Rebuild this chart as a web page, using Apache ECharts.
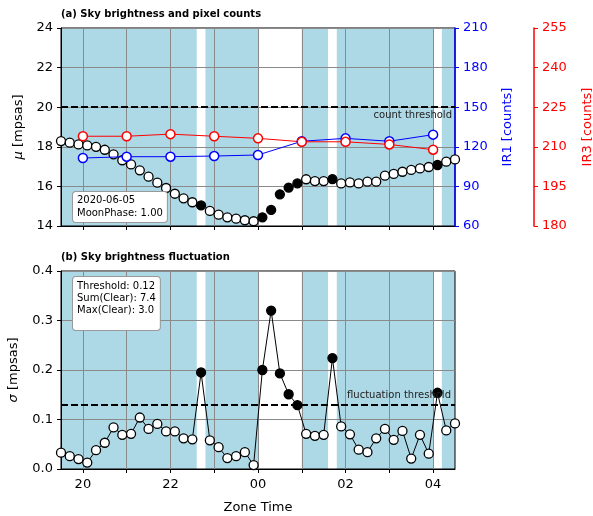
<!DOCTYPE html>
<html>
<head>
<meta charset="utf-8">
<script src="https://cdn.jsdelivr.net/npm/echarts@6/dist/echarts.min.js"></script>
<style>
  html, body { margin: 0; padding: 0; background: #fff; }
  #chart { width: 593px; height: 516px; }
</style>
</head>
<body>
<div id="chart"></div>
<script>
// 12-minute samples, zone time
const sampleTimes = [
  '19:30', '19:42', '19:54', '20:06', '20:18', '20:30', '20:42', '20:54',
  '21:06', '21:18', '21:30', '21:42', '21:54', '22:06', '22:18', '22:30',
  '22:42', '22:54', '23:06', '23:18', '23:30', '23:42', '23:54', '00:06',
  '00:18', '00:30', '00:42', '00:54', '01:06', '01:18', '01:30', '01:42',
  '01:54', '02:06', '02:18', '02:30', '02:42', '02:54', '03:06', '03:18',
  '03:30', '03:42', '03:54', '04:06', '04:18', '04:30',
]
const skyBrightness = [
  18.29, 18.21, 18.12, 18.07, 18.0, 17.85, 17.62, 17.32,
  17.11, 16.81, 16.49, 16.19, 15.92, 15.63, 15.4, 15.2,
  15.04, 14.76, 14.57, 14.44, 14.37, 14.29, 14.24, 14.44,
  14.81, 15.6, 15.94, 16.15, 16.36, 16.27, 16.27, 16.37,
  16.15, 16.2, 16.15, 16.24, 16.24, 16.54, 16.63, 16.74,
  16.83, 16.91, 16.98, 17.08, 17.25, 17.36,
]
const fluctuation = [
  0.033, 0.026, 0.02, 0.013, 0.038, 0.053, 0.084, 0.069,
  0.071, 0.104, 0.081, 0.091, 0.076, 0.076, 0.062, 0.06,
  0.195, 0.058, 0.044, 0.022, 0.026, 0.034, 0.008, 0.2,
  0.32, 0.193, 0.151, 0.129, 0.071, 0.067, 0.069, 0.224,
  0.086, 0.07, 0.039, 0.034, 0.062, 0.081, 0.059, 0.077,
  0.021, 0.069, 0.031, 0.154, 0.078, 0.092,
]
// 1 = clear sky (open marker), 0 = cloudy (filled marker)
const clearFlags = [
  1, 1, 1, 1, 1, 1, 1, 1, 1, 1, 1, 1, 1, 1, 1, 1,
  0, 1, 1, 1, 1, 1, 1, 0, 0, 0, 0, 0, 1, 1, 1, 0,
  1, 1, 1, 1, 1, 1, 1, 1, 1, 1, 1, 0, 1, 1,
]
const hourlyTimes = ['20:00', '21:00', '22:00', '23:00', '00:00', '01:00', '02:00', '03:00', '04:00']
const ir1Counts = [111.5, 112.5, 112.5, 113, 113.8, 124.2, 126.4, 124.2, 129.2]
const ir3Counts = [214.0, 214.0, 214.8, 214.0, 213.2, 211.9, 211.9, 210.9, 208.9]

const hourTicks = [20, 21, 22, 23, 24, 25, 26, 27, 28]
const hourLabels = [20, 22, 24, 26, 28]
const countThreshold = 20
const fluctThreshold = 0.125

const toHours = (s) => {
  const [h, m] = s.split(':').map(Number)
  return (h < 12 ? h + 24 : h) + m / 60
}
const xs = sampleTimes.map(toHours)
const halfStep = 0.1

// clear periods -> shaded spans
const clearSpans = []
clearFlags.forEach((c, i) => {
  if (!c) return
  const last = clearSpans[clearSpans.length - 1]
  if (last && last.end === i - 1) last.end = i
  else clearSpans.push({ start: i, end: i })
})
const areaData = clearSpans.map(({ start, end }) => [
  { xAxis: Math.max(19.5, xs[start] - halfStep) },
  { xAxis: Math.min(28.5, xs[end] + halfStep) },
])

const pointStyle = (c) => ({
  color: c ? '#fff' : '#000',
  borderColor: '#000',
  borderWidth: 1.3,
  opacity: 1,
})

const font = 'DejaVu Sans'
const gridColor = '#8a8a8a'

const xAxisBase = (gridIndex, labels) => ({
  type: 'value',
  gridIndex,
  min: 19.5,
  max: 28.5,
  z: 1.6,
  axisLine: { show: true, lineStyle: { color: '#000', width: 1 } },
  axisTick: { show: true, length: 4, customValues: hourTicks, lineStyle: { color: '#000' } },
  splitLine: { show: true, lineStyle: { color: gridColor, width: 1 } },
  axisLabel: {
    show: labels,
    customValues: hourLabels,
    margin: 9,
    fontSize: 13,
    color: '#000',
    formatter: (v) => String(Math.round(v) % 24).padStart(2, '0'),
  },
})

const chart = echarts.init(document.getElementById('chart'), null, { renderer: 'canvas' })
chart.setOption({
  animation: false,
  backgroundColor: '#fff',
  textStyle: { fontFamily: font },
  title: [
    { text: '(a) Sky brightness and pixel counts', left: 61, top: 9, padding: 0,
      textStyle: { fontSize: 10, fontWeight: 'bold', color: '#000', fontFamily: font } },
    { text: '(b) Sky brightness fluctuation', left: 61, top: 252, padding: 0,
      textStyle: { fontSize: 10, fontWeight: 'bold', color: '#000', fontFamily: font } },
  ],
  grid: [
    { left: 61, top: 28, width: 394, height: 198, show: true, z: 1.5, outerBoundsMode: 'none',
      backgroundColor: 'transparent', borderColor: '#000', borderWidth: 1 },
    { left: 61, top: 271, width: 394, height: 198, show: true, z: 1.5, outerBoundsMode: 'none',
      backgroundColor: 'transparent', borderColor: '#000', borderWidth: 1 },
  ],
  xAxis: [
    xAxisBase(0, false),
    Object.assign(xAxisBase(1, true), {
      name: 'Zone Time',
      nameLocation: 'middle',
      nameGap: 32,
      nameTextStyle: { fontSize: 13, color: '#000' },
    }),
  ],
  yAxis: [
    {
      type: 'value', gridIndex: 0, min: 14, max: 24, interval: 2, z: 1.6,
      name: '{i|μ} [mpsas]', nameLocation: 'middle', nameGap: 36, nameRotate: 90,
      nameTextStyle: { fontSize: 13, color: '#000', rich: { i: { fontStyle: 'italic', fontSize: 13 } } },
      axisLine: { show: true, lineStyle: { color: '#000' } },
      axisTick: { show: true, length: 4, lineStyle: { color: '#000' } },
      axisLabel: { fontSize: 13, color: '#000', margin: 8 },
      splitLine: { show: true, lineStyle: { color: gridColor, width: 1 } },
    },
    {
      type: 'value', gridIndex: 0, min: 60, max: 210, interval: 30, position: 'right', z: 1.7,
      name: 'IR1 [counts]', nameLocation: 'middle', nameGap: 46, nameRotate: 90,
      nameTextStyle: { fontSize: 13, color: 'blue' },
      axisLine: { show: true, lineStyle: { color: 'blue', width: 1.5 } },
      axisTick: { show: true, length: 4, lineStyle: { color: 'blue' } },
      axisLabel: { fontSize: 13, color: 'blue', margin: 8 },
      splitLine: { show: false },
    },
    {
      type: 'value', gridIndex: 0, min: 180, max: 255, interval: 15, position: 'right', offset: 79, z: 1.7,
      name: 'IR3 [counts]', nameLocation: 'middle', nameGap: 47, nameRotate: 90,
      nameTextStyle: { fontSize: 13, color: 'red' },
      axisLine: { show: true, lineStyle: { color: 'red', width: 1.5 } },
      axisTick: { show: true, length: 4, lineStyle: { color: 'red' } },
      axisLabel: { fontSize: 13, color: 'red', margin: 8 },
      splitLine: { show: false },
    },
    {
      type: 'value', gridIndex: 1, min: 0, max: 0.4, interval: 0.1, z: 1.6,
      name: '{i|σ} [mpsas]', nameLocation: 'middle', nameGap: 41, nameRotate: 90,
      nameTextStyle: { fontSize: 13, color: '#000', rich: { i: { fontStyle: 'italic', fontSize: 13 } } },
      axisLine: { show: true, lineStyle: { color: '#000' } },
      axisTick: { show: true, length: 4, lineStyle: { color: '#000' } },
      axisLabel: { fontSize: 13, color: '#000', margin: 8, formatter: (v) => v.toFixed(1) },
      splitLine: { show: true, lineStyle: { color: gridColor, width: 1 } },
    },
  ],
  series: [
    {
      name: 'mu',
      type: 'scatter',
      xAxisIndex: 0,
      yAxisIndex: 0,
      symbol: 'circle',
      symbolSize: 9,
      itemStyle: { opacity: 1 },
      data: xs.map((x, i) => ({ value: [x, skyBrightness[i]], itemStyle: pointStyle(clearFlags[i]) })),
      markArea: {
        silent: true,
        z: 1,
        itemStyle: { color: '#add8e6', opacity: 1 },
        data: areaData,
      },
      markLine: {
        silent: true,
        symbol: 'none',
        lineStyle: { color: '#000', type: [7, 3], width: 2 },
        label: { position: 'insideEndBottom', formatter: 'count threshold', fontSize: 10, color: '#222', distance: 3 },
        data: [{ yAxis: countThreshold }],
      },
    },
    {
      name: 'sigma',
      type: 'line',
      xAxisIndex: 1,
      yAxisIndex: 3,
      symbol: 'circle',
      symbolSize: 9,
      showAllSymbol: true,
      lineStyle: { color: '#000', width: 1 },
      data: xs.map((x, i) => ({ value: [x, fluctuation[i]], itemStyle: pointStyle(clearFlags[i]) })),
      markArea: {
        silent: true,
        z: 1,
        itemStyle: { color: '#add8e6', opacity: 1 },
        data: areaData,
      },
      markLine: {
        silent: true,
        symbol: 'none',
        lineStyle: { color: '#000', type: [7, 3], width: 2 },
        label: { position: 'insideEndTop', formatter: 'fluctuation threshold', fontSize: 10, color: '#222', distance: 4 },
        data: [{ yAxis: fluctThreshold }],
      },
    },
    {
      name: 'IR1',
      type: 'line',
      xAxisIndex: 0,
      yAxisIndex: 1,
      symbol: 'circle',
      symbolSize: 9,
      itemStyle: { color: '#fff', borderColor: 'blue', borderWidth: 1.5 },
      lineStyle: { color: 'blue', width: 1 },
      data: hourlyTimes.map((t, i) => [toHours(t), ir1Counts[i]]),
    },
    {
      name: 'IR3',
      type: 'line',
      xAxisIndex: 0,
      yAxisIndex: 2,
      symbol: 'circle',
      symbolSize: 9,
      itemStyle: { color: '#fff', borderColor: 'red', borderWidth: 1.5 },
      lineStyle: { color: 'red', width: 1 },
      data: hourlyTimes.map((t, i) => [toHours(t), ir3Counts[i]]),
    },
  ],
  graphic: [
    {
      type: 'text', left: 72, top: 191, z: 10,
      style: {
        text: '2020-06-05\nMoonPhase: 1.00', font: '10px "DejaVu Sans"', fill: '#000', lineHeight: 13,
        backgroundColor: '#fff', borderColor: '#999', borderWidth: 1, borderRadius: 3, padding: [2, 4, 2, 4],
      },
    },
    {
      type: 'text', left: 72, top: 276, z: 10,
      style: {
        text: 'Threshold: 0.12\nSum(Clear): 7.4\nMax(Clear): 3.0', font: '10px "DejaVu Sans"', fill: '#000', lineHeight: 12,
        backgroundColor: '#fff', borderColor: '#999', borderWidth: 1, borderRadius: 3, padding: [3, 4, 14, 4],
      },
    },
  ],
})
</script>
</body>
</html>
